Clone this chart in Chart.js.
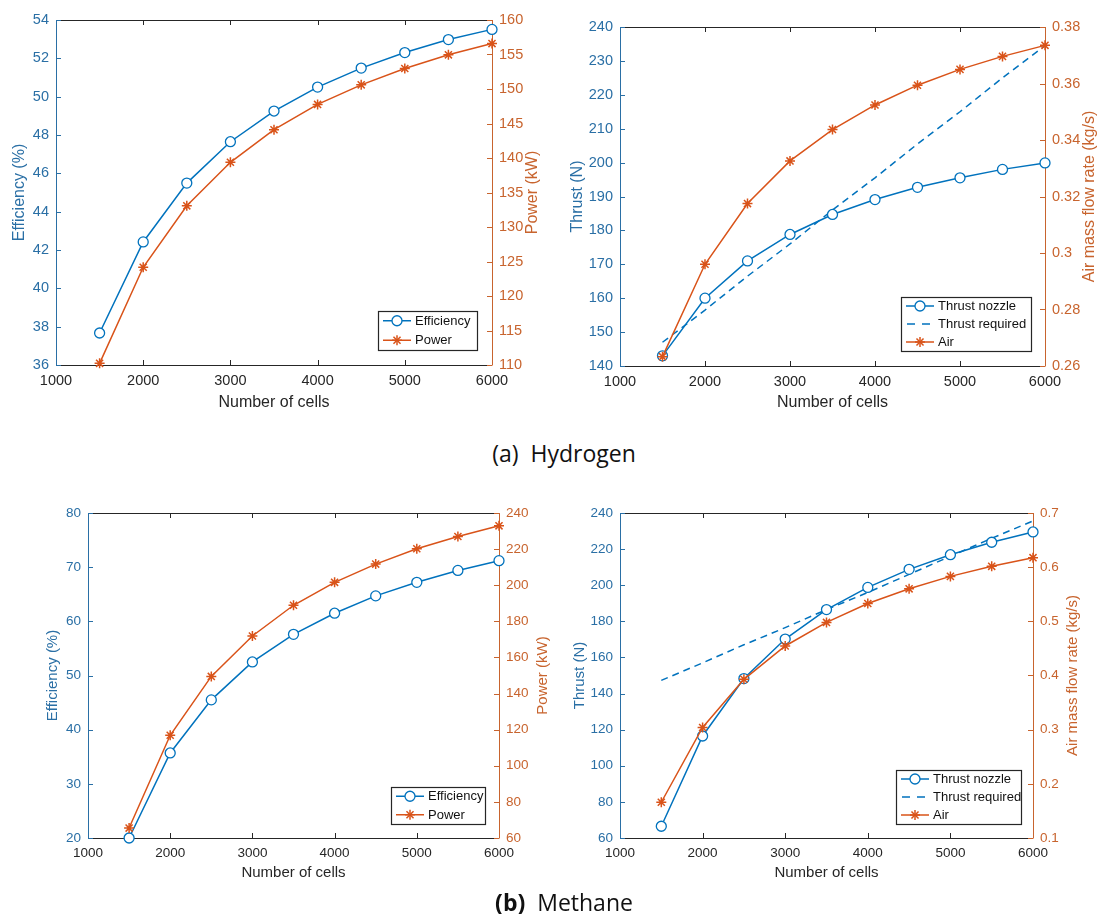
<!DOCTYPE html>
<html>
<head>
<meta charset="utf-8">
<script src="https://cdn.jsdelivr.net/npm/chart.js@4.4.1/dist/chart.umd.min.js"></script>
<style>
  html, body { margin: 0; background: #fff; }
  body { width: 1099px; height: 914px; position: relative; overflow: hidden; }
  canvas { position: absolute; }
  .caption {
    position: absolute;
    font-family: 'Open Sans', 'Noto Sans', sans-serif;
    font-size: 23px;
    color: #111;
    white-space: pre;
    transform: translate(-50%, -50%);
  }
</style>
</head>
<body>
<canvas id="h2Perf" style="left:0;top:0" width="560" height="420"></canvas>
<canvas id="h2Thrust" style="left:550px;top:0" width="549" height="420"></canvas>
<canvas id="ch4Perf" style="left:0;top:480px" width="560" height="420"></canvas>
<canvas id="ch4Thrust" style="left:550px;top:480px" width="549" height="420"></canvas>
<div class="caption" style="left:564px;top:453px">(a)  Hydrogen</div>
<div class="caption" style="left:564px;top:902px"><b>(b)</b>  Methane</div>

<script>
const cells = [1500, 2000, 2500, 3000, 3500, 4000, 4500, 5000, 5500, 6000];
const cellTicks = [1000, 2000, 3000, 4000, 5000, 6000];

// hydrogen
const h2Efficiency = [37.67, 42.42, 45.49, 47.65, 49.25, 50.5, 51.49, 52.3, 52.98, 53.51];
const h2Power = [110.24, 124.16, 133.07, 139.38, 144.1, 147.77, 150.6, 152.97, 154.95, 156.58];
const h2ThrustNozzle = [143, 160, 171, 178.8, 184.7, 189.1, 192.7, 195.5, 198, 199.9];
const h2ThrustRequired = [147, 156.5, 166.5, 176, 186, 195.5, 205.5, 215, 225, 234.5];
const h2Air = [0.2633, 0.296, 0.3175, 0.3326, 0.3437, 0.3524, 0.3594, 0.365, 0.3696, 0.3735];

// methane
const ch4Efficiency = [20.0, 35.7, 45.5, 52.5, 57.6, 61.5, 64.7, 67.2, 69.4, 71.2];
const ch4Power = [65.5, 116.9, 149.5, 171.9, 188.9, 201.6, 211.7, 220.2, 227.0, 232.9];
const ch4ThrustNozzle = [66.5, 116.5, 148.3, 170.2, 186.5, 198.8, 208.8, 216.9, 223.8, 229.5];
const ch4ThrustRequired = [147.3, 157, 167, 176.5, 186.5, 196, 206, 216, 226, 235.6];
const ch4Air = [0.166, 0.304, 0.393, 0.4545, 0.498, 0.533, 0.56, 0.583, 0.6015, 0.6175];

// axis ticks
const h2EffTicks = [36, 38, 40, 42, 44, 46, 48, 50, 52, 54];
const h2PowerTicks = [110, 115, 120, 125, 130, 135, 140, 145, 150, 155, 160];
const h2ThrustTicks = [140, 150, 160, 170, 180, 190, 200, 210, 220, 230, 240];
const h2AirTicks = [0.26, 0.28, 0.3, 0.32, 0.34, 0.36, 0.38];
const ch4EffTicks = [20, 30, 40, 50, 60, 70, 80];
const ch4PowerTicks = [60, 80, 100, 120, 140, 160, 180, 200, 220, 240];
const ch4ThrustTicks = [60, 80, 100, 120, 140, 160, 180, 200, 220, 240];
const ch4AirTicks = [0.1, 0.2, 0.3, 0.4, 0.5, 0.6, 0.7];

const FONT = "'Liberation Sans', Arial, sans-serif";
const BLUE = '#0072BD';
const ORANGE = '#D95319';
const AXIS_BLUE = '#2a6fa5';
const AXIS_ORANGE = '#c8642e';
const DARK = '#262626';
const TICK = 5;

const pts = arr => cells.map((c, i) => ({ x: c, y: arr[i] }));

function fixedTicks(list) {
  return s => { s.ticks = list.map(v => ({ value: v })); };
}

function yScale(list, position, color, width, size) {
  return {
    type: 'linear',
    position,
    min: list[0],
    max: list[list.length - 1],
    afterBuildTicks: fixedTicks(list),
    afterFit: s => { s.width = width; },
    grid: { display: false, drawTicks: false },
    border: { display: false },
    ticks: {
      color, padding: 7, autoSkip: false,
      font: { family: FONT, size },
      callback: v => String(+v.toFixed(3))
    }
  };
}

function circleSeries(label, data, order) {
  return {
    label, data: pts(data), yAxisID: 'y', order,
    borderColor: BLUE, borderWidth: 1.5,
    pointStyle: 'circle', pointRadius: 5, pointBorderWidth: 1.3,
    pointBorderColor: BLUE, pointBackgroundColor: '#fff', clip: false
  };
}

function starSeries(label, data, order) {
  return {
    label, data: pts(data), yAxisID: 'y1', order,
    borderColor: ORANGE, borderWidth: 1.5,
    pointStyle: 'star', pointRadius: 5, pointBorderWidth: 1.5,
    pointBorderColor: ORANGE, pointBackgroundColor: ORANGE, clip: false
  };
}

function dashedSeries(label, data, order) {
  return {
    label, data: pts(data), yAxisID: 'y', order,
    borderColor: BLUE, borderWidth: 1.5, borderDash: [7, 5],
    pointRadius: 0, clip: false
  };
}

function line(ctx, x1, y1, x2, y2) {
  ctx.beginPath();
  ctx.moveTo(x1, y1);
  ctx.lineTo(x2, y2);
  ctx.stroke();
}

function marker(ctx, style, color, x, y) {
  ctx.save();
  ctx.strokeStyle = color;
  if (style === 'circle') {
    ctx.lineWidth = 1.3;
    ctx.fillStyle = '#fff';
    ctx.beginPath();
    ctx.arc(x, y, 5, 0, Math.PI * 2);
    ctx.fill();
    ctx.stroke();
  } else if (style === 'star') {
    ctx.lineWidth = 1.5;
    const r = 5, d = r * Math.SQRT1_2;
    line(ctx, x - r, y, x + r, y);
    line(ctx, x, y - r, x, y + r);
    line(ctx, x - d, y - d, x + d, y + d);
    line(ctx, x - d, y + d, x + d, y - d);
  }
  ctx.restore();
}

// box frame with inward ticks, axis titles and the boxed legend
const frame = {
  id: 'frame',
  beforeDatasetsDraw(chart, args, o) {
    const { ctx, chartArea: a, scales } = chart;
    const sx = scales.x, sy = scales.y, sy1 = scales.y1;
    const px = v => Math.round(v) + 0.5;
    ctx.save();
    ctx.lineWidth = 1;

    ctx.strokeStyle = DARK;
    sx.ticks.forEach(t => {
      const x = px(sx.getPixelForValue(t.value));
      line(ctx, x, a.bottom, x, a.bottom - TICK);
      line(ctx, x, a.top, x, a.top + TICK);
    });
    line(ctx, a.left, px(a.top), a.right, px(a.top));
    line(ctx, a.left, px(a.bottom), a.right, px(a.bottom));

    ctx.strokeStyle = AXIS_BLUE;
    sy.ticks.forEach(t => {
      const y = px(sy.getPixelForValue(t.value));
      line(ctx, a.left, y, a.left + TICK, y);
    });
    line(ctx, px(a.left), a.top, px(a.left), a.bottom + 0.5);

    ctx.strokeStyle = AXIS_ORANGE;
    sy1.ticks.forEach(t => {
      const y = px(sy1.getPixelForValue(t.value));
      line(ctx, a.right, y, a.right - TICK, y);
    });
    line(ctx, px(a.right), a.top, px(a.right), a.bottom + 0.5);

    ctx.font = `${o.titleSize}px ${FONT}`;
    ctx.textAlign = 'center';
    ctx.textBaseline = 'middle';
    ctx.fillStyle = DARK;
    ctx.fillText(o.xTitle, (a.left + a.right) / 2, o.xTitleY);
    const midY = (a.top + a.bottom) / 2;
    [[o.leftTitle, o.leftTitleX, AXIS_BLUE], [o.rightTitle, o.rightTitleX, AXIS_ORANGE]].forEach(([text, x, color]) => {
      ctx.save();
      ctx.translate(x, midY);
      ctx.rotate(-Math.PI / 2);
      ctx.fillStyle = color;
      ctx.fillText(text, 0, 0);
      ctx.restore();
    });
    ctx.restore();
  },
  afterDraw(chart, args, o) {
    const { ctx } = chart;
    const L = o.legend;
    const sets = chart.data.datasets;
    ctx.save();
    ctx.fillStyle = '#fff';
    ctx.fillRect(L.x, L.y, L.w, L.h);
    ctx.strokeStyle = DARK;
    ctx.lineWidth = 1.2;
    ctx.strokeRect(L.x + 0.5, L.y + 0.5, L.w, L.h);
    ctx.font = `${o.legendSize}px ${FONT}`;
    ctx.textAlign = 'left';
    ctx.textBaseline = 'middle';
    sets.forEach((ds, i) => {
      const cy = L.y + L.h * (i + 0.5) / sets.length;
      ctx.strokeStyle = ds.borderColor;
      ctx.lineWidth = ds.borderWidth;
      ctx.setLineDash(ds.borderDash ? [8, 7] : []);
      line(ctx, L.x + 5 + (ds.borderDash ? 1 : 0), cy, L.x + 33, cy);
      ctx.setLineDash([]);
      if (ds.pointRadius > 0) marker(ctx, ds.pointStyle, ds.borderColor, L.x + 19, cy);
      ctx.fillStyle = '#111';
      ctx.fillText(ds.label, L.x + 37, cy + 0.5);
    });
    ctx.restore();
  }
};

function build(id, datasets, layout, axes) {
  new Chart(document.getElementById(id), {
    type: 'line',
    data: { datasets },
    plugins: [frame],
    options: {
      responsive: false,
      animation: false,
      events: [],
      devicePixelRatio: 1,
      layout: { padding: { top: layout.top, left: 0, right: 0, bottom: 0 } },
      scales: {
        x: {
          type: 'linear',
          min: 1000, max: 6000,
          afterBuildTicks: fixedTicks(cellTicks),
          afterFit: s => { s.height = layout.bottom; },
          grid: { display: false, drawTicks: false },
          border: { display: false },
          ticks: {
            color: DARK, padding: 7, maxRotation: 0, autoSkip: false,
            font: { family: FONT, size: layout.tickSize },
            callback: v => String(v)
          }
        },
        y: yScale(axes.left, 'left', AXIS_BLUE, layout.left, layout.tickSize),
        y1: yScale(axes.right, 'right', AXIS_ORANGE, layout.right, layout.tickSize)
      },
      plugins: {
        legend: { display: false },
        tooltip: { enabled: false },
        frame: Object.assign({ titleSize: layout.titleSize, legendSize: 13 }, axes.frame)
      }
    }
  });
}

build('h2Perf', [
  circleSeries('Efficiency', h2Efficiency, 1),
  starSeries('Power', h2Power, 0)
], { top: 20, left: 56, right: 68, bottom: 55, tickSize: 14.5, titleSize: 16 }, {
  left: h2EffTicks, right: h2PowerTicks,
  frame: {
    xTitle: 'Number of cells', xTitleY: 403,
    leftTitle: 'Efficiency (%)', leftTitleX: 20,
    rightTitle: 'Power (kW)', rightTitleX: 533,
    legend: { x: 378, y: 311, w: 99, h: 39 }
  }
});

build('h2Thrust', [
  circleSeries('Thrust nozzle', h2ThrustNozzle, 1),
  dashedSeries('Thrust required', h2ThrustRequired, 2),
  starSeries('Air', h2Air, 0)
], { top: 27, left: 70, right: 54, bottom: 54, tickSize: 14.5, titleSize: 16 }, {
  left: h2ThrustTicks, right: h2AirTicks,
  frame: {
    xTitle: 'Number of cells', xTitleY: 403,
    leftTitle: 'Thrust (N)', leftTitleX: 28,
    rightTitle: 'Air mass flow rate (kg/s)', rightTitleX: 540,
    legend: { x: 351, y: 297, w: 130, h: 54 }
  }
});

build('ch4Perf', [
  circleSeries('Efficiency', ch4Efficiency, 1),
  starSeries('Power', ch4Power, 0)
], { top: 33, left: 88, right: 61, bottom: 62, tickSize: 13.5, titleSize: 15 }, {
  left: ch4EffTicks, right: ch4PowerTicks,
  frame: {
    xTitle: 'Number of cells', xTitleY: 393,
    leftTitle: 'Efficiency (%)', leftTitleX: 53,
    rightTitle: 'Power (kW)', rightTitleX: 543,
    legend: { x: 391, y: 307, w: 94, h: 37 }
  }
});

build('ch4Thrust', [
  circleSeries('Thrust nozzle', ch4ThrustNozzle, 1),
  dashedSeries('Thrust required', ch4ThrustRequired, 2),
  starSeries('Air', ch4Air, 0)
], { top: 33, left: 70, right: 66, bottom: 62, tickSize: 13.5, titleSize: 15 }, {
  left: ch4ThrustTicks, right: ch4AirTicks,
  frame: {
    xTitle: 'Number of cells', xTitleY: 393,
    leftTitle: 'Thrust (N)', leftTitleX: 30,
    rightTitle: 'Air mass flow rate (kg/s)', rightTitleX: 523,
    legend: { x: 346, y: 290, w: 125, h: 54 }
  }
});
</script>
</body>
</html>
